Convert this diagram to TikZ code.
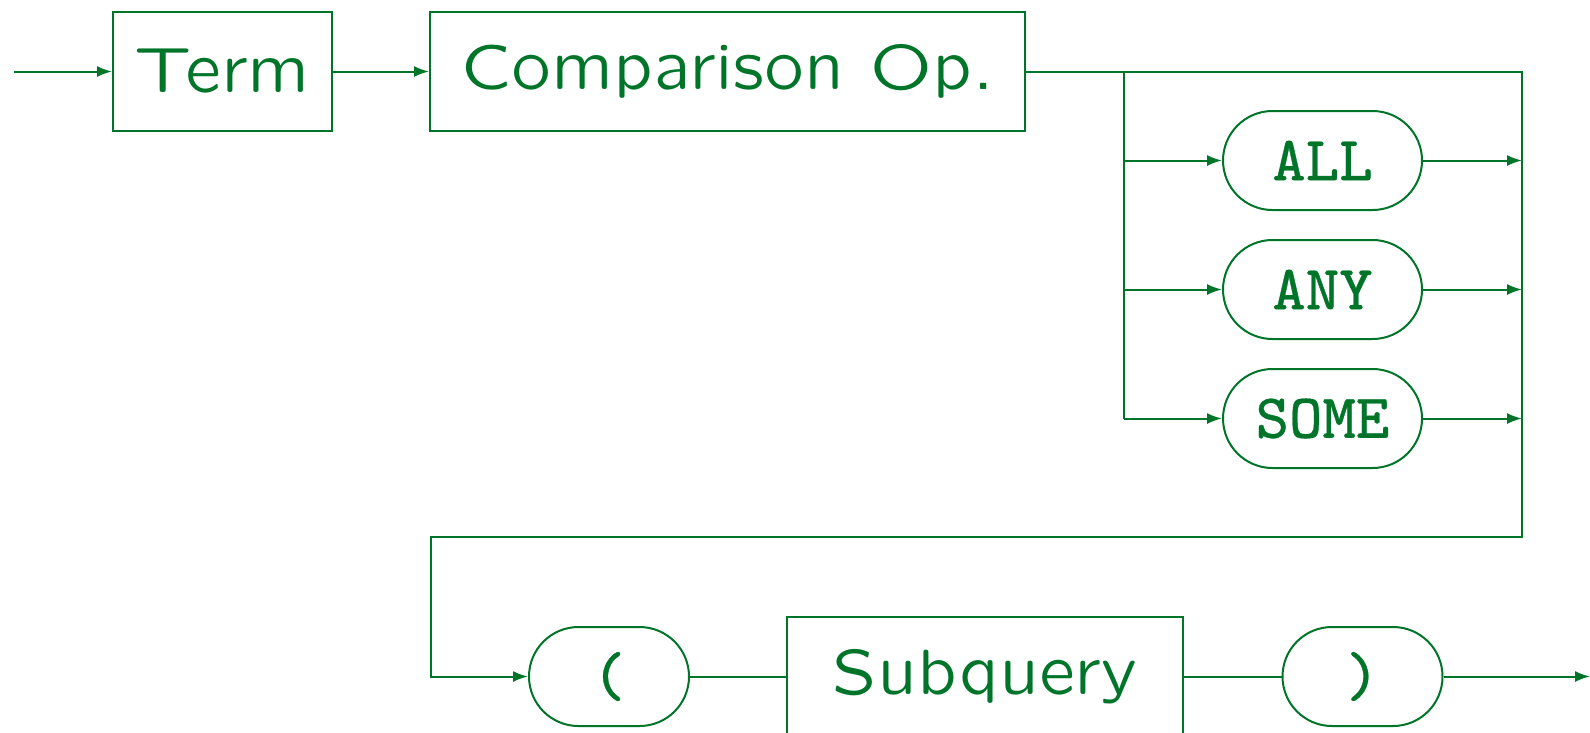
\documentclass[tikz,border=0pt]{standalone}
\usepackage{fontspec}
\usepackage{tikz}
\usetikzlibrary{arrows.meta}
\newfontfamily\railsf{lmsansquot8-regular.otf}
\newfontfamily\railtt[FakeBold=0.5]{lmmono8-regular.otf}
\definecolor{railgreen}{RGB}{0,117,42}

\begin{document}
\begin{tikzpicture}[x=1pt,y=-1pt,
  rail/.style={draw=railgreen,line width=2pt},
  arr/.style={rail,-{Latex[length=15pt,width=11pt]}},
  ntbox/.style={rail,rectangle,minimum height=119pt,inner sep=0pt,text=railgreen,
    font=\railsf\fontsize{64}{72}\selectfont},
  litbox/.style={rail,rectangle,rounded corners=49.5pt,minimum height=99pt,inner sep=0pt,
    text=railgreen,font=\railtt\fontsize{63}{72}\selectfont}]
\useasboundingbox (0,0) rectangle (1590,732);
\node [ntbox,minimum width=219pt] (term) at (222.5,71.5) {Term};
\node [ntbox,minimum width=595pt] (comp) at (727.5,71.5) {Comparison Op.};
\node [litbox,minimum width=199pt] (all) at (1322.5,160.5) {ALL};
\node [litbox,minimum width=199pt] (any) at (1322.5,289.5) {ANY};
\node [litbox,minimum width=199pt] (some) at (1322.5,418.5) {SOME};
\node [litbox,minimum width=160pt] (lpar) at (609,676.5) {(};
\node [ntbox,minimum width=396pt] (sub) at (985,676.5) {Subquery};
\node [litbox,minimum width=160pt] (rpar) at (1362.5,676.5) {)};
\coordinate (start) at (14,71.5);
\coordinate (split) at (1124,71.5);
\coordinate (join) at (1522,71.5);
\coordinate (back) at (431,537);
\coordinate (end) at (1590,676.5);

\draw [arr] (start) -- (term);
\draw [arr] (term) -- (comp);
\draw [arr] (comp) -- (join) |- (back) |- (lpar);
\draw [rail] (split) -- (split |- some);
\foreach \k in {all,any,some} {
  \draw [arr] (split |- \k) -- (\k);
  \draw [arr] (\k) -- (join |- \k);
}
\draw [rail] (lpar) -- (sub);
\draw [rail] (sub) -- (rpar);
\draw [arr] (rpar) -- (end);
\end{tikzpicture}
\end{document}
